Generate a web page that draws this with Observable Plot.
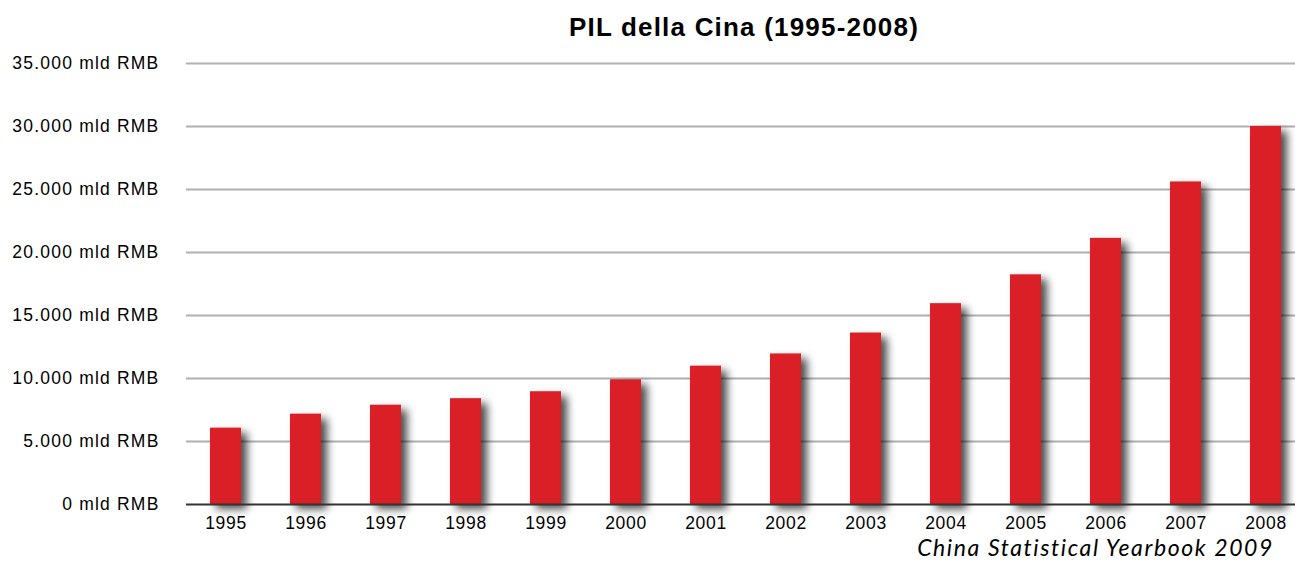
<!DOCTYPE html>
<html><head><meta charset="utf-8">
<script src="https://cdn.jsdelivr.net/npm/d3@7"></script>
<script src="https://cdn.jsdelivr.net/npm/@observablehq/plot@0.6"></script>
<style>
html,body{margin:0;padding:0;background:#fff;overflow:hidden;width:1295px;height:562px}
#title{font:bold 26px 'Liberation Sans',Arial,sans-serif;line-height:54px;height:45px;margin-left:186px;width:1116px;text-align:center;letter-spacing:1.2px;color:#000;overflow:visible;white-space:nowrap}
#caption{font:italic 23px Lato,'Open Sans',sans-serif;line-height:18px;height:18px;text-align:right;padding-right:21px;letter-spacing:1.6px;color:#000;white-space:nowrap;overflow:visible}
</style></head><body>
<div id="title"></div><div id="chart"></div><div id="caption"></div>
<script>
const years = ["1995","1996","1997","1998","1999","2000","2001","2002","2003","2004","2005","2006","2007","2008"];
const gdp = [6060, 7170, 7880, 8400, 8950, 9900, 10980, 11950, 13610, 15940, 18230, 21120, 25600, 30000];
const yTicks = [0, 5000, 10000, 15000, 20000, 25000, 30000, 35000];
const titleText = "PIL della Cina (1995-2008)";
const captionText = "China Statistical Yearbook 2009";
const unit = " mld RMB";

document.getElementById("title").textContent = titleText;
document.getElementById("caption").textContent = captionText;

const data = years.map((y, i) => ({year: y, value: gdp[i]}));
const fmt = d => d3.format(",")(d).replace(/,/g, ".") + unit;

const svg = Plot.plot({
  width: 1295,
  height: 493,
  marginTop: 18,
  marginBottom: 34,
  marginLeft: 186,
  marginRight: 0,
  style: {fontFamily: "'Liberation Sans', Arial, sans-serif", color: "#000", background: "#fff"},
  x: {type: "band", domain: years, paddingInner: 0.6135, paddingOuter: 0.2207, align: 0.63},
  y: {domain: [0, 35000]},
  marks: [
    Plot.ruleY(yTicks.filter(d => d > 0), {stroke: "#b0b0b0", strokeWidth: 2}),
    Plot.barY(data, {x: "year", y: "value", fill: "#da1f27"}),
    Plot.ruleY([0], {stroke: "#333", strokeWidth: 2}),
    Plot.axisY({ticks: yTicks, tickFormat: fmt, tickSize: 0, tickPadding: 27, fontSize: 17.5, label: null}),
    Plot.axisX({tickSize: 0, tickPadding: 12, fontSize: 17.5, label: null})
  ]
});
document.getElementById("chart").appendChild(svg);
d3.select(svg).selectAll("g[aria-label='bar']").style("filter", "drop-shadow(6px 5px 4px rgba(0,0,0,0.7))");
d3.select(svg).selectAll("g[aria-label='y-axis tick label']").style("letter-spacing", "1.2px");
d3.select(svg).selectAll("g[aria-label='x-axis tick label']").style("letter-spacing", "0.7px");
</script>
</body></html>
